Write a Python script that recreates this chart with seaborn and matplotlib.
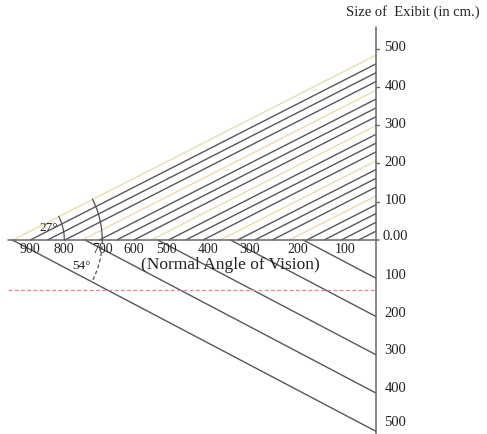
import numpy as np
import pandas as pd
import matplotlib.pyplot as plt
import seaborn as sns

# distances along the floor (cm) and label values
dist_labels = ['900', '800', '700', '600', '500', '400', '300', '200', '100']
dist_label_pos = [903, 815, 715, 634, 548, 439, 329, 204, 81]

# size of exhibit ticks on the right hand axis
size_ticks = [100, 200, 300, 400, 500]
lower_label_pos = [-94, -193, -290, -389, -478]

# upper hatch lines: height where each one meets the right axis, and its colour
upper_heights = [483, 460, 437, 414, 391, 368, 345, 322, 299, 276, 253, 230,
                 207, 184, 161, 138, 115, 92, 69, 46, 23]
upper_kind = ['light', 'dark', 'dark', 'dark', 'light', 'dark', 'dark', 'dark',
              'light', 'dark', 'dark', 'dark', 'light', 'dark', 'dark', 'dark',
              'light', 'dark', 'dark', 'dark', 'dark']

# lower lines: start on the floor line, end on the right axis below zero
lower_start = [950, 760, 570, 380, 190]
lower_end = [-500, -400, -300, -200, -100]

apex = 950
half_angle = 27
eye_level = -130

sns.set_theme(style="white")
plt.rcParams['font.family'] = ['Liberation Serif', 'DejaVu Serif']

rows = []
t = np.tan(np.radians(half_angle))
for i, (h, k) in enumerate(zip(upper_heights, upper_kind)):
    rows.append({'x': h / t, 'y': 0, 'seg': f'u{i}', 'kind': k})
    rows.append({'x': 0, 'y': h, 'seg': f'u{i}', 'kind': k})
for i, (s, e) in enumerate(zip(lower_start, lower_end)):
    rows.append({'x': s, 'y': 0, 'seg': f'l{i}', 'kind': 'dark'})
    rows.append({'x': 0, 'y': e, 'seg': f'l{i}', 'kind': 'dark'})
df = pd.DataFrame(rows)

fig = plt.figure(figsize=(4.87, 4.34), dpi=100)
ax = fig.add_axes([0, 0, 1, 1])

sns.lineplot(data=df, x='x', y='y', units='seg', estimator=None, sort=False,
             hue='kind', palette={'dark': '#55565f', 'light': '#e9ddb0'},
             hue_order=['light', 'dark'], linewidth=1.0, legend=False, ax=ax)

# axes of the diagram
ax.plot([apex + 10, -8], [0, 0], color='#66666c', lw=1.1)
ax.plot([0, 0], [556, -520], color='#66666c', lw=1.1)

# eye level
ax.plot([apex + 10, 0], [eye_level, eye_level], color='#d98a8a', lw=0.9,
        ls=(0, (3, 2)))

# angle arcs
th = np.radians(np.linspace(180 - half_angle, 180, 40))
ax.plot(apex + 136 * np.cos(th), 136 * np.sin(th), color='#505058', lw=0.9)
ax.plot(apex + 235 * np.cos(th), 235 * np.sin(th), color='#505058', lw=0.9)
th2 = np.radians(np.linspace(180, 180 + half_angle, 40))
ax.plot(apex + 235 * np.cos(th2), 235 * np.sin(th2), color='#505058', lw=0.9,
        ls=(0, (3, 2)))

ax.text(855, 30, '27°', fontsize=9.5, ha='center', va='center', color='#222')
ax.text(770, -68, '54°', fontsize=9.5, ha='center', va='center', color='#222')

# floor labels
for p, lab in zip(dist_label_pos, dist_labels):
    ax.text(p, -7, lab, fontsize=10, ha='center', va='top', color='#222')
ax.text(380, -65, '(Normal Angle of Vision)', fontsize=12.5, ha='center',
        va='center', color='#222')

# right axis labels
for v, lp in zip(size_ticks, lower_label_pos):
    ax.plot([0, -7], [v, v], color='#66666c', lw=1.0)
    ax.text(-22, v + 2, str(v), fontsize=10.5, ha='left', va='center', color='#222')
    ax.text(-22, lp, str(v), fontsize=10.5, ha='left', va='center', color='#222')
ax.text(-18, 10, '0.00', fontsize=10.5, ha='left', va='center', color='#222')
ax.text(-95, 595, 'Size of  Exibit (in cm.)', fontsize=10.5, ha='center',
        va='center', color='#222')

ax.set_xlim(982, -290)
ax.set_ylim(-507, 627)
ax.set_aspect('auto')
ax.axis('off')

fig.savefig('out.png', dpi=100)
